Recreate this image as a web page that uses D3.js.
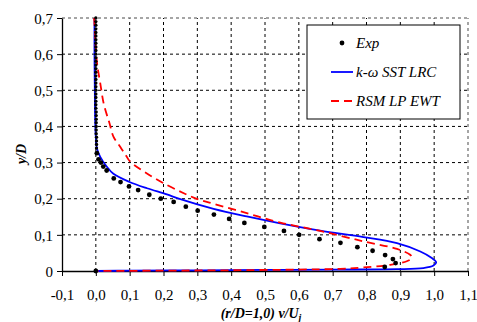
<!DOCTYPE html>
<html>
<head>
<meta charset="utf-8">
<script src="https://cdn.jsdelivr.net/npm/d3@7"></script>
<style>
  body { margin: 0; background: #fff; }
</style>
</head>
<body>
<div id="chart"></div>
<script>
// measured points
const expV = [0.000, 0.000, 0.000, 0.000, 0.000, 0.000, 0.000, 0.000, 0.000, 0.000,
  0.000, 0.000, 0.000, 0.000, 0.000, 0.000, 0.000, 0.000, 0.000, 0.000,
  0.000, 0.000, 0.000, 0.000, 0.000, 0.000, 0.001, 0.001, 0.001, 0.001,
  0.001, 0.001, 0.001, 0.002, 0.002, 0.002, 0.002, 0.003,
  0.008, 0.015, 0.022, 0.032, 0.053, 0.073, 0.098, 0.125, 0.158, 0.192, 0.230, 0.266,
  0.301, 0.349, 0.394, 0.439, 0.498, 0.556, 0.601, 0.661, 0.723, 0.773, 0.818, 0.855,
  0.878, 0.886, 0.854, 0.000];
const expY = [0.700, 0.690, 0.680, 0.670, 0.660, 0.650, 0.640, 0.630, 0.620, 0.610,
  0.600, 0.590, 0.580, 0.570, 0.560, 0.550, 0.540, 0.530, 0.520, 0.510,
  0.500, 0.490, 0.480, 0.470, 0.460, 0.450, 0.440, 0.430, 0.420, 0.410,
  0.400, 0.390, 0.380, 0.370, 0.360, 0.350, 0.340, 0.326,
  0.309, 0.300, 0.289, 0.278, 0.256, 0.246, 0.234, 0.224, 0.211, 0.200, 0.191, 0.178,
  0.167, 0.156, 0.144, 0.133, 0.122, 0.111, 0.100, 0.088, 0.078, 0.066, 0.056, 0.044,
  0.033, 0.022, 0.011, 0.000];

// k-w SST LRC
const sstV = [-0.004, -0.004, -0.003, -0.002, 0.000, 0.003, 0.013, 0.032, 0.052, 0.098,
  0.151, 0.210, 0.245, 0.348, 0.446, 0.545, 0.663, 0.791, 0.890, 0.959,
  0.993, 1.006, 0.998, 0.968, 0.889, 0.700, 0.500, 0.300, 0.100, 0.000];
const sstY = [0.700, 0.600, 0.500, 0.420, 0.370, 0.340, 0.316, 0.289, 0.269, 0.247,
  0.229, 0.212, 0.200, 0.172, 0.151, 0.132, 0.112, 0.094, 0.077, 0.054,
  0.036, 0.024, 0.015, 0.008, 0.005, 0.004, 0.003, 0.002, 0.001, 0.000];

// RSM LP EWT
const rsmV = [-0.005, -0.002, 0.001, 0.005, 0.013, 0.024, 0.040, 0.052, 0.072, 0.090,
  0.101, 0.151, 0.210, 0.260, 0.300, 0.348, 0.446, 0.545, 0.663, 0.791,
  0.890, 0.929, 0.934, 0.919, 0.870, 0.791, 0.722, 0.600, 0.400, 0.200, 0.000];
const rsmY = [0.700, 0.650, 0.600, 0.565, 0.520, 0.460, 0.410, 0.372, 0.344, 0.318,
  0.303, 0.270, 0.238, 0.215, 0.199, 0.186, 0.160, 0.134, 0.111, 0.082,
  0.061, 0.045, 0.036, 0.027, 0.017, 0.010, 0.006, 0.004, 0.002, 0.001, 0.000];

const xTicks = [-0.1, 0.0, 0.1, 0.2, 0.3, 0.4, 0.5, 0.6, 0.7, 0.8, 0.9, 1.0, 1.1];
const yTicks = [0, 0.1, 0.2, 0.3, 0.4, 0.5, 0.6, 0.7];
const legendNames = ["Exp", "k-\u03C9 SST LRC", "RSM LP EWT"];

const FONT = "Liberation Serif";
const W = 477, H = 322;
const M = { LEFT: 62, RIGHT: 9, TOP: 18, BOTTOM: 51 };

const svg = d3.select("#chart").append("svg")
  .attr("width", W).attr("height", H)
  .attr("font-family", FONT);

const x = d3.scaleLinear().domain([-0.1, 1.1]).range([M.LEFT, W - M.RIGHT]);
const y = d3.scaleLinear().domain([0, 0.7]).range([H - M.BOTTOM, M.TOP]);

const comma = (d) => d3.format(".1f")(d).replace(".", ",").replace("\u2212", "-");

// grid
const grid = svg.append("g");
grid.selectAll(".vg").data(xTicks.filter((d) => d > -0.05))
  .enter().append("line")
  .attr("x1", (d) => x(d)).attr("x2", (d) => x(d))
  .attr("y1", y(0)).attr("y2", y(0.7))
  .attr("stroke", (d) => (d > 1.05 ? "#888" : "#000"))
  .attr("stroke-width", (d) => (d > 1.05 ? 1.5 : 1))
  .attr("stroke-dasharray", "3,3");
grid.selectAll(".hg").data(yTicks.filter((d) => d > 0))
  .enter().append("line")
  .attr("x1", x(-0.1)).attr("x2", x(1.1))
  .attr("y1", (d) => y(d)).attr("y2", (d) => y(d))
  .attr("stroke", (d) => (d > 0.65 ? "#888" : "#000"))
  .attr("stroke-width", (d) => (d > 0.65 ? 1.5 : 1))
  .attr("stroke-dasharray", "3,3");

// axes
const xAxis = svg.append("g")
  .attr("transform", `translate(0,${y(0)})`)
  .call(d3.axisBottom(x).tickValues(xTicks).tickSize(5).tickSizeOuter(0)
    .tickFormat(comma));
const yAxis = svg.append("g")
  .attr("transform", `translate(${x(-0.1)},0)`)
  .call(d3.axisLeft(y).tickValues(yTicks).tickSize(5).tickSizeOuter(0)
    .tickFormat((d) => (d === 0 ? "0" : comma(d))));

[xAxis, yAxis].forEach((a) => {
  a.attr("font-family", FONT).attr("font-size", 15);
  a.select(".domain").attr("stroke", "#000").attr("stroke-width", 1.3);
  a.selectAll(".tick line").attr("stroke", "#000");
  a.selectAll("text").attr("fill", "#000");
});
xAxis.selectAll("text").attr("dy", "0").attr("y", 29);
yAxis.selectAll("text").attr("x", -9).attr("dy", "0.35em");

// axis titles
const xt = svg.append("text")
  .attr("x", 261).attr("y", 318)
  .attr("text-anchor", "middle")
  .attr("font-size", 14).attr("font-weight", "bold").attr("font-style", "italic");
xt.append("tspan").text("(r/D=1,0) v/U");
xt.append("tspan").attr("dy", 3).attr("font-size", 10).text("j");

svg.append("text")
  .attr("transform", "translate(26,154) rotate(-90)")
  .attr("text-anchor", "middle")
  .attr("font-size", 14).attr("font-weight", "bold").attr("font-style", "italic")
  .text("y/D");

// curves
const line = d3.line()
  .x((d) => x(d[0])).y((d) => y(d[1]))
  .curve(d3.curveCatmullRom.alpha(0.5));

svg.append("path")
  .datum(d3.zip(sstV, sstY))
  .attr("fill", "none").attr("stroke", "#0000ff").attr("stroke-width", 1.8)
  .attr("d", line);

svg.append("path")
  .datum(d3.zip(rsmV, rsmY))
  .attr("fill", "none").attr("stroke", "#ff0000").attr("stroke-width", 1.8)
  .attr("stroke-dasharray", "8,5")
  .attr("d", line);

svg.append("g").selectAll("circle")
  .data(d3.zip(expV, expY))
  .enter().append("circle")
  .attr("cx", (d) => x(d[0])).attr("cy", (d) => y(d[1]))
  .attr("r", (d) => (d[1] > 0.33 ? 1.7 : 2.4)).attr("fill", "#000");

// legend
const lg = svg.append("g").attr("transform", "translate(307,25)");
lg.append("rect")
  .attr("width", 153).attr("height", 94)
  .attr("fill", "#fff").attr("stroke", "#000").attr("stroke-width", 1);

legendNames.forEach((name, i) => {
  const cy = 18 + i * 29;
  if (i === 0) {
    lg.append("circle").attr("cx", 35).attr("cy", cy).attr("r", 2.4).attr("fill", "#000");
  } else {
    lg.append("line")
      .attr("x1", 24).attr("x2", 46).attr("y1", cy).attr("y2", cy)
      .attr("stroke", i === 1 ? "#0000ff" : "#ff0000").attr("stroke-width", 1.8)
      .attr("stroke-dasharray", i === 2 ? "8,5" : null);
  }
  lg.append("text")
    .attr("x", 49).attr("y", cy + 5)
    .attr("font-size", 15).attr("font-style", "italic")
    .text(name);
});
</script>
</body>
</html>
